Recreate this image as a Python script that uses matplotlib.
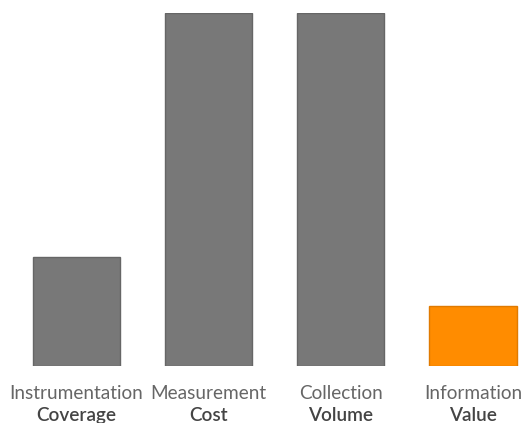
import matplotlib
matplotlib.use("Agg")
import matplotlib.pyplot as plt
from matplotlib.transforms import blended_transform_factory

categories_top = ["Instrumentation", "Measurement", "Collection", "Information"]
categories_bottom = ["Coverage", "Cost", "Volume", "Value"]
values = [31, 100, 100, 17]
colors = ["#787878", "#787878", "#787878", "#FF8C00"]
edges = ["#666666", "#666666", "#666666", "#E07A00"]

plt.rcParams['font.family'] = ['Lato', 'DejaVu Sans']

fig = plt.figure(figsize=(5.23, 4.23), dpi=100)
ax = fig.add_axes([0, 57/423, 1, 353/423])
x = list(range(len(values)))
ax.bar(x, values, width=0.66, color=colors, edgecolor=edges, linewidth=1)
ax.set_xlim(-0.579, 3.378)
ax.set_ylim(0, 100)
ax.axis('off')

tr = blended_transform_factory(ax.transData, fig.transFigure)
for xi, t1, t2 in zip(x, categories_top, categories_bottom):
    ax.text(xi, (423-399)/423, t1, transform=tr, ha='center', va='baseline',
            fontsize=13.7, color='#666666')
    ax.text(xi, (423-421)/423, t2, transform=tr, ha='center', va='baseline',
            fontsize=13.7, color='#444444', fontweight='semibold')

fig.savefig("out.png", dpi=100)
